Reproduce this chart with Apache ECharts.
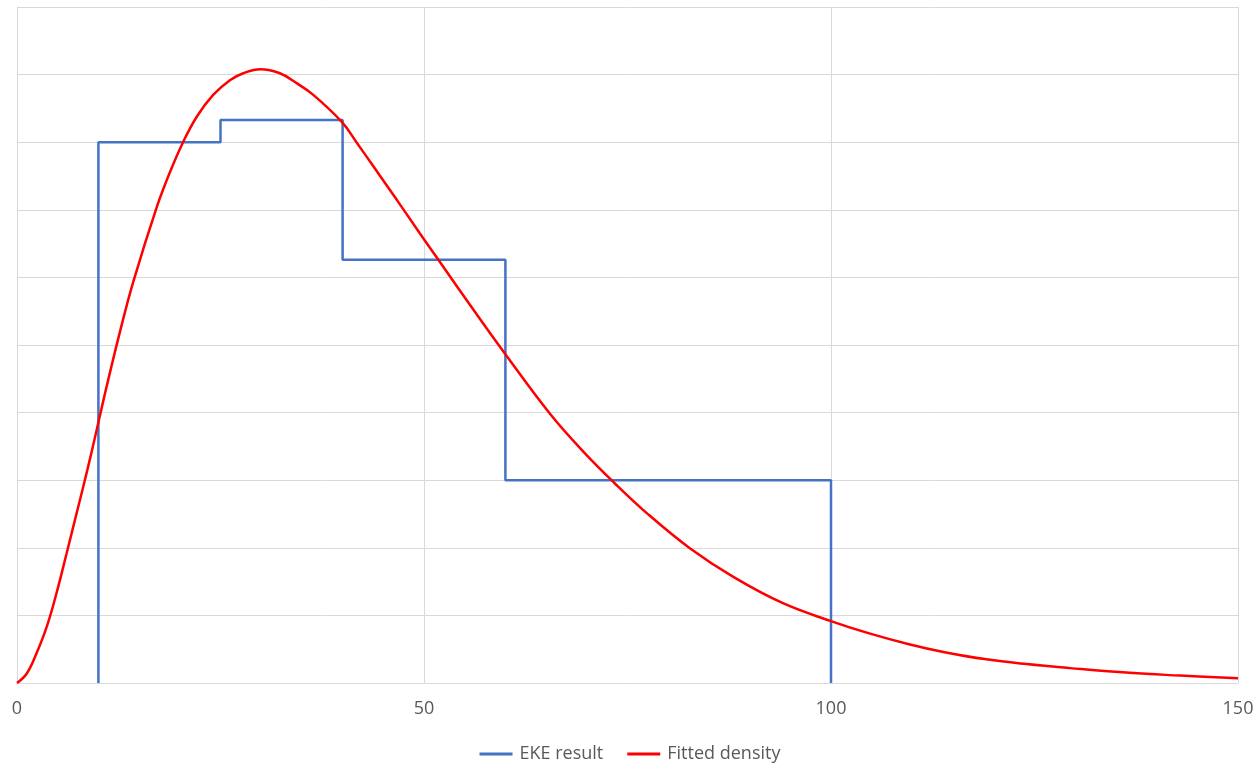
<!DOCTYPE html>
<html>
<head>
<meta charset="utf-8">
<title>EKE result vs fitted density</title>
<script src="https://cdn.jsdelivr.net/npm/echarts@6/dist/echarts.min.js"></script>
<style>
  html, body { margin: 0; padding: 0; background: #fff; }
  #densityChart { width: 1260px; height: 767px; }
</style>
</head>
<body>
<div id="densityChart"></div>
<script>
// EKE result (histogram steps): bin edges and height of each bin
var eke_edges = [10, 25, 40, 60, 100];
var eke_heights = [8.0, 8.33, 6.26, 3.0];

// fitted density
var fit_x = [0, 1.2, 2.4, 3.7, 4.9, 6.1, 7.3, 8.6, 9.8, 11, 12.7, 14.3, 17.2, 18.8, 20.4, 22.1, 24.1,
  26.2, 27.8, 29.9, 32.3, 34.4, 36.4, 39.9, 41.7, 43.8, 46.7, 49.5, 52, 56.9, 60.2, 65.5, 69.6,
  73.3, 77.4, 82.7, 88, 94.1, 99.9, 104.8, 109.7, 113.8, 119.1, 124, 129.4, 136.7, 142.9, 150];
var fit_y = [0, 0.14, 0.44, 0.85, 1.35, 1.92, 2.50, 3.13, 3.75, 4.38, 5.22, 5.94, 7.05, 7.56, 8.0, 8.38, 8.70,
  8.92, 9.02, 9.08, 9.02, 8.87, 8.70, 8.30, 8.0, 7.64, 7.14, 6.65, 6.22, 5.38, 4.83, 3.98, 3.42,
  2.97, 2.51, 1.99, 1.57, 1.18, 0.92, 0.73, 0.57, 0.46, 0.35, 0.28, 0.22, 0.15, 0.11, 0.07];

var x_ticks = [0, 50, 100, 150];

// steps -> outline points (vertical up, flat top, vertical down)
var ekeData = [[eke_edges[0], 0]];
for (var i = 0; i < eke_heights.length; i++) {
  ekeData.push([eke_edges[i], eke_heights[i]]);
  ekeData.push([eke_edges[i + 1], eke_heights[i]]);
}
ekeData.push([eke_edges[eke_edges.length - 1], 0]);

var fitData = fit_x.map(function (x, i) { return [x, fit_y[i]]; });

var chart = echarts.init(document.getElementById('densityChart'));
var gridColor = '#D9D9D9';
var font = 'Open Sans, Noto Sans, sans-serif';

chart.setOption({
  animation: false,
  backgroundColor: '#fff',
  grid: { left: 17, right: 22, top: 7, bottom: 84 },
  legend: {
    top: 740,
    left: 'center',
    icon: 'rect',
    itemWidth: 33,
    itemHeight: 3,
    itemGap: 24,
    textStyle: { color: '#595959', fontSize: 18, fontFamily: font, padding: [0, 0, 0, 2] },
    data: ['EKE result', 'Fitted density']
  },
  xAxis: {
    type: 'value',
    min: x_ticks[0],
    max: x_ticks[x_ticks.length - 1],
    interval: 50,
    axisLine: { show: true, lineStyle: { color: gridColor, width: 1 } },
    axisTick: { show: false },
    axisLabel: { color: '#595959', fontSize: 18, fontFamily: font, margin: 17 },
    splitLine: { show: true, lineStyle: { color: gridColor, width: 1 } }
  },
  yAxis: {
    type: 'value',
    min: 0,
    max: 10,
    interval: 1,
    axisLine: { show: true, lineStyle: { color: gridColor, width: 1 } },
    axisTick: { show: false },
    axisLabel: { show: false },
    splitLine: { show: true, lineStyle: { color: gridColor, width: 1 } }
  },
  series: [
    {
      name: 'EKE result',
      type: 'line',
      symbol: 'none',
      color: '#4472C4',
      lineStyle: { color: '#4472C4', width: 2.5 },
      data: ekeData
    },
    {
      name: 'Fitted density',
      type: 'line',
      symbol: 'none',
      smooth: 0.4,
      color: '#FF0000',
      lineStyle: { color: '#FF0000', width: 2.5 },
      data: fitData
    }
  ]
});
</script>
</body>
</html>
